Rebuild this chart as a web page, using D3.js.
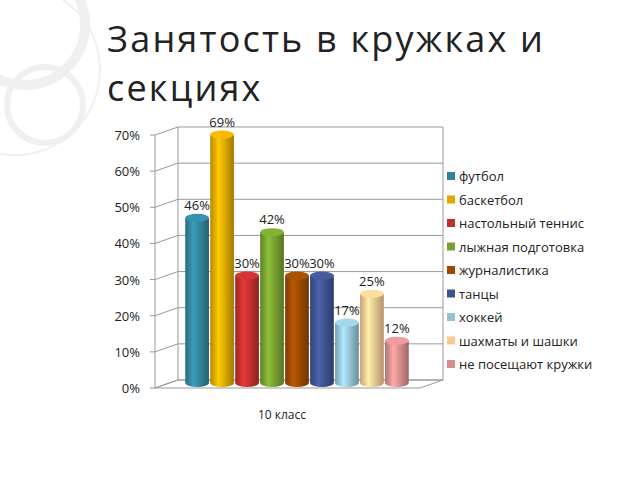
<!DOCTYPE html><html><head><meta charset="utf-8"><script src="https://cdn.jsdelivr.net/npm/d3@7"></script>
<style>body{margin:0;background:#fff}text{font-family:"Open Sans","DejaVu Sans",sans-serif}</style></head><body><svg id="c" width="640" height="480"></svg>
<script>
const categories=["футбол","баскетбол","настольный теннис","лыжная подготовка","журналистика","танцы","хоккей","шахматы и шашки","не посещают кружки"];
const values=[46,69,30,42,30,30,17,25,12];
const colors=["#31849B","#E3A800","#C0302F","#77A030","#9A4A00","#3F5390","#93C3D3","#FAC890","#D98D8D"];
const yTicks=[0,10,20,30,40,50,60,70];
const svg=d3.select("#c");
const deco=svg.append("g").attr("fill","none").attr("stroke","#f0f0f0");
deco.append("circle").attr("cx",25).attr("cy",25).attr("r",60).attr("stroke-width",10);
deco.append("circle").attr("cx",45).attr("cy",105).attr("r",38).attr("stroke-width",6);
deco.append("circle").attr("cx",15).attr("cy",70).attr("r",85).attr("stroke-width",2);
svg.append("text").attr("x",107).attr("y",52).attr("font-size",36).attr("letter-spacing",2.2).attr("fill","#222").text("Занятость в кружках и");
svg.append("text").attr("x",107).attr("y",101).attr("font-size",36).attr("letter-spacing",2.2).attr("fill","#222").text("секциях");
const y=d3.scaleLinear().domain([0,70]).range([388,135]);
const dx=23,dy=-8,x0=155,x1=420;
const g=svg.append("g");
g.append("path").attr("d",`M${x0},${y(0)}L${x0+dx},${y(0)+dy}L${x1+dx},${y(0)+dy}L${x1},${y(0)}Z`).attr("fill","none").attr("stroke","#999");
g.append("line").attr("x1",x0).attr("x2",x0).attr("y1",y(0)).attr("y2",y(70)).attr("stroke","#999");
yTicks.forEach(t=>{
 g.append("path").attr("d",`M${x0},${y(t)}L${x0+dx},${y(t)+dy}L${x1+dx},${y(t)+dy}`).attr("fill","none").attr("stroke","#999");
 g.append("line").attr("x1",x0-5).attr("x2",x0).attr("y1",y(t)).attr("y2",y(t)).attr("stroke","#999");
 g.append("text").attr("x",x0-15).attr("y",y(t)+5).attr("text-anchor","end").attr("font-size",13).attr("fill","#222").text(t+"%");
});
g.append("line").attr("x1",x0+dx).attr("x2",x0+dx).attr("y1",y(0)+dy).attr("y2",y(70)+dy).attr("stroke","#999");
g.append("line").attr("x1",x1+dx).attr("x2",x1+dx).attr("y1",y(0)+dy).attr("y2",y(70)+dy).attr("stroke","#999");
const xb=d3.scaleBand().domain(categories).range([184,410]).padding(0.05);
const defs=svg.append("defs");
categories.forEach((c,i)=>{
 const col=d3.color(colors[i]);
 const gr=defs.append("linearGradient").attr("id","g"+i);
 gr.append("stop").attr("offset","0%").attr("stop-color",col.darker(0.6));
 gr.append("stop").attr("offset","35%").attr("stop-color",col.brighter(0.5));
 gr.append("stop").attr("offset","100%").attr("stop-color",col.darker(0.9));
 const w=xb.bandwidth(),xl=xb(c),cx=xl+w/2,top=y(values[i])-4,bot=383,ry=4;
 g.append("path").attr("d",`M${xl},${top}L${xl},${bot}A${w/2},${ry} 0 0 0 ${xl+w},${bot}L${xl+w},${top}Z`).attr("fill",`url(#g${i})`);
 g.append("ellipse").attr("cx",cx).attr("cy",top).attr("rx",w/2).attr("ry",ry).attr("fill",col.brighter(0.3));
 g.append("text").attr("x",cx).attr("y",top-8).attr("text-anchor","middle").attr("font-size",13).attr("fill","#222").text(values[i]+"%");
});
svg.append("text").attr("x",282).attr("y",419).attr("text-anchor","middle").attr("font-size",12).attr("fill","#222").text("10 класс");
const lg=svg.append("g");
categories.forEach((c,i)=>{
 const yy=177+i*23.5;
 lg.append("rect").attr("x",447).attr("y",yy-5).attr("width",8).attr("height",8).attr("fill",colors[i]);
 lg.append("text").attr("x",459).attr("y",yy+4).attr("font-size",13).attr("fill","#222").text(c);
});
</script></body></html>
